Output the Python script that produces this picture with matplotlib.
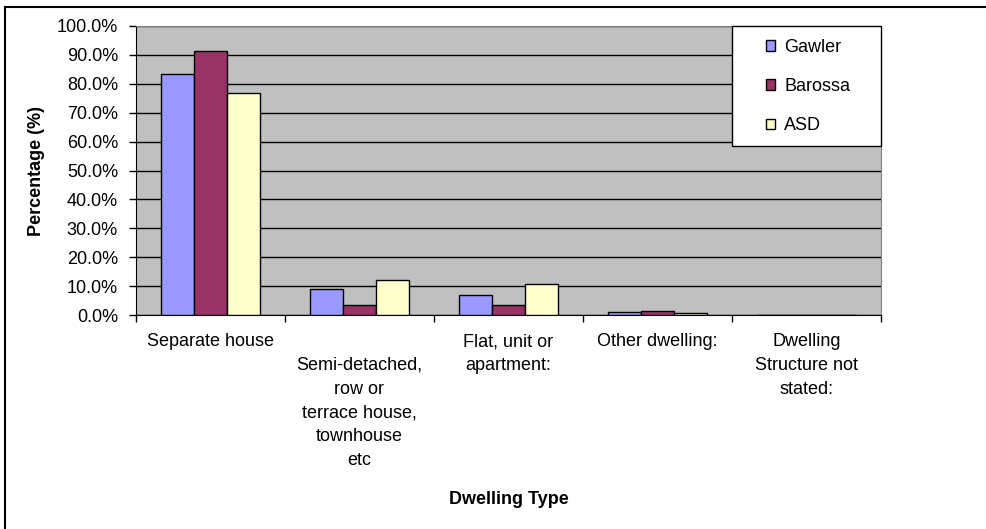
import numpy as np
import matplotlib
matplotlib.use("Agg")
import matplotlib.pyplot as plt
from matplotlib.patches import Rectangle

# Dwelling structure shares by region (%)
categories = ["Separate house",
              "\nSemi-detached,\nrow or\nterrace house,\ntownhouse\netc",
              "Flat, unit or\napartment:",
              "Other dwelling:",
              "Dwelling\nStructure not\nstated:"]
gawler = [83.4, 9.0, 7.0, 1.1, 0.0]
barossa = [91.3, 3.5, 3.6, 1.5, 0.0]
asd = [76.7, 12.0, 10.6, 0.7, 0.0]
series_names = ["Gawler", "Barossa", "ASD"]
series_colors = ["#9999FF", "#993366", "#FFFFCC"]

plt.rcParams["font.family"] = ["Liberation Sans", "DejaVu Sans"]
fs = 13

fig = plt.figure(figsize=(9.87, 5.29), dpi=100)
ax = fig.add_axes([136 / 987, 1 - 315 / 529, 745 / 987, 289 / 529])
ax.set_facecolor("#C0C0C0")

x = np.arange(len(categories))
w = 0.22
for i, (vals, name, col) in enumerate(zip([gawler, barossa, asd], series_names, series_colors)):
    ax.bar(x + (i - 1) * w, vals, width=w, color=col, edgecolor="black",
           linewidth=1.0, label=name, zorder=3)

ax.set_xlim(-0.5, len(categories) - 0.5)
ax.set_ylim(0, 100)
ax.set_yticks(np.arange(0, 101, 10))
ax.set_yticklabels([f"{v:.1f}%" for v in range(0, 101, 10)], fontsize=fs)
ax.yaxis.grid(True, color="black", linewidth=1.0, zorder=1)
ax.tick_params(axis="y", direction="out", length=5, width=1, pad=8)

# labels centred under each group, ticks on the group boundaries
ax.set_xticks(x)
ax.set_xticklabels(categories, fontsize=fs, va="top", ha="center", linespacing=1.52)
ax.tick_params(axis="x", which="major", length=0, pad=13)
ax.set_xticks(np.arange(-0.5, len(categories), 1), minor=True)
ax.tick_params(axis="x", which="minor", direction="out", length=5, width=1)

for s in ["top", "right"]:
    ax.spines[s].set_color("#808080")
ax.spines["left"].set_color("black")
ax.spines["bottom"].set_color("black")

ax.set_ylabel("Percentage (%)", fontsize=fs, fontweight="bold")
ax.yaxis.set_label_coords(-0.122, 0.5)
ax.set_xlabel("Dwelling Type", fontsize=fs, fontweight="bold")
ax.xaxis.set_label_coords(0.5, -0.61)

# legend box
ax.add_patch(Rectangle((0.80, 0.585), 0.20, 0.415, transform=ax.transAxes,
                       facecolor="white", edgecolor="black", linewidth=1.0,
                       zorder=5, clip_on=False))
leg = ax.legend(loc="upper left", bbox_to_anchor=(0.846, 0.955), frameon=False,
                fontsize=fs, handlelength=0.5, handleheight=0.5,
                handletextpad=0.5, labelspacing=1.22, borderpad=0,
                borderaxespad=0)
leg.set_zorder(6)
for h in leg.legend_handles:
    h.set_linewidth(1.0)

# outer chart border
fig.patches.append(Rectangle((5 / 987, -0.1), 1.2, 1 - 7 / 529 + 0.1,
                             transform=fig.transFigure, fill=False,
                             edgecolor="black", linewidth=1.5))

fig.savefig("out.png", dpi=100, facecolor="white")
